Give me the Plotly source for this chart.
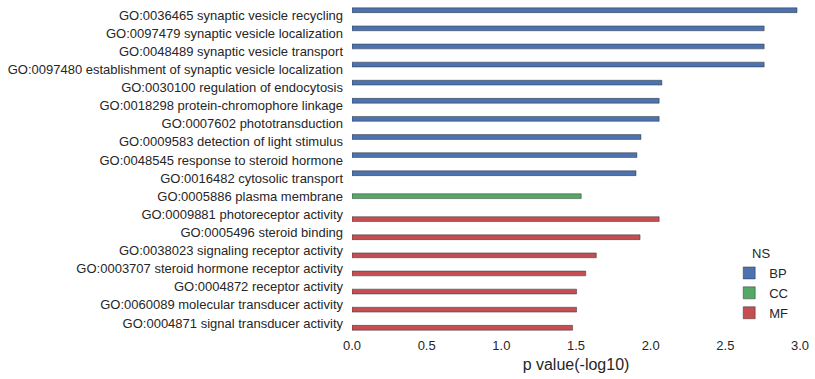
import plotly.graph_objects as go

terms = [
    "GO:0036465 synaptic vesicle recycling",
    "GO:0097479 synaptic vesicle localization",
    "GO:0048489 synaptic vesicle transport",
    "GO:0097480 establishment of synaptic vesicle localization",
    "GO:0030100 regulation of endocytosis",
    "GO:0018298 protein-chromophore linkage",
    "GO:0007602 phototransduction",
    "GO:0009583 detection of light stimulus",
    "GO:0048545 response to steroid hormone",
    "GO:0016482 cytosolic transport",
    "GO:0005886 plasma membrane",
    "GO:0009881 photoreceptor activity",
    "GO:0005496 steroid binding",
    "GO:0038023 signaling receptor activity",
    "GO:0003707 steroid hormone receptor activity",
    "GO:0004872 receptor activity",
    "GO:0060089 molecular transducer activity",
    "GO:0004871 signal transducer activity",
]
namespace = ["BP"] * 10 + ["CC"] + ["MF"] * 7
pvals = [2.98, 2.76, 2.76, 2.76, 2.075, 2.057, 2.057, 1.935, 1.908, 1.902,
         1.535, 2.057, 1.929, 1.636, 1.565, 1.504, 1.504, 1.477]
groups = ["BP", "CC", "MF"]
colors = {"BP": "#4C72B0", "CC": "#55A868", "MF": "#C44E52"}

fig = go.Figure()
for g in groups:
    xs = [v if ns == g else None for v, ns in zip(pvals, namespace)]
    fig.add_trace(go.Bar(
        y=terms, x=xs, name=g, orientation="h",
        marker=dict(color=colors[g], line=dict(color="rgba(40,40,40,0.45)", width=1)),
    ))

font_family = "Liberation Sans, Arial, sans-serif"
fig.update_layout(
    width=815, height=379,
    margin=dict(l=352, r=15, t=6, b=47),
    barmode="group", bargap=0.2, bargroupgap=0,
    plot_bgcolor="white", paper_bgcolor="white",
    font=dict(family=font_family, size=13, color="#262626"),
    xaxis=dict(range=[0, 3.0], tickvals=[0, 0.5, 1, 1.5, 2, 2.5, 3],
               ticktext=["0.0", "0.5", "1.0", "1.5", "2.0", "2.5", "3.0"],
               showgrid=False, zeroline=False, showline=False,
               title=dict(text="p value(-log10)", standoff=6),
               ticks="", ticklabelstandoff=4),
    yaxis=dict(categoryorder="array", categoryarray=terms, range=[17.5, -0.5],
               showgrid=False, zeroline=False, showline=False, ticks="",
               ticklabelstandoff=8),
    legend=dict(title=dict(text="NS", side="top center", font=dict(size=13)),
                x=0.842, xanchor="left", y=0.012, yanchor="bottom",
                bgcolor="rgba(0,0,0,0)", tracegroupgap=0,
                font=dict(size=13)),
    showlegend=True,
)
fig.write_html("out.html", config={"displayModeBar": False},
               post_script="document.body.style.margin='0px';")
